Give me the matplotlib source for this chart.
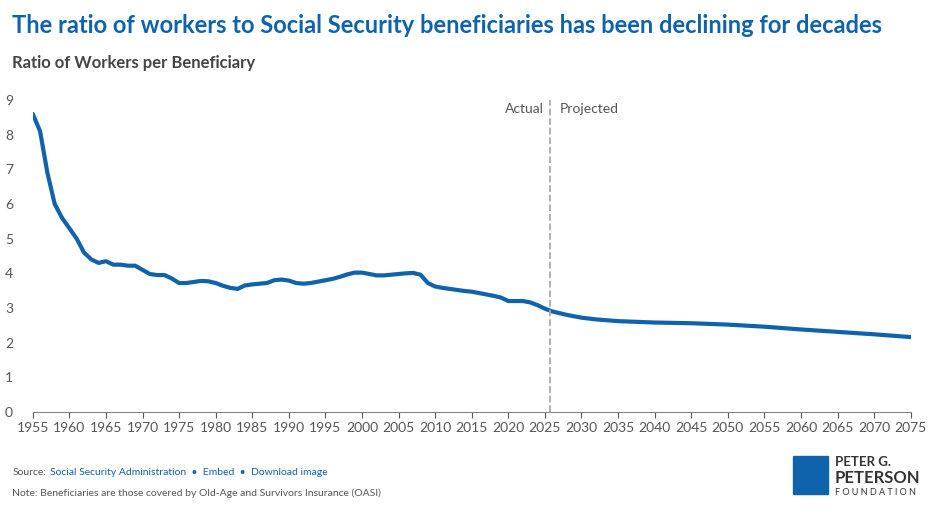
import matplotlib.pyplot as plt
from matplotlib.patches import Rectangle

years = list(range(1955, 2031)) + [2032, 2035, 2040, 2045, 2050, 2055, 2060, 2065, 2070, 2075]
ratio = [8.6, 8.1, 6.9, 6.0, 5.6, 5.3, 5.0, 4.6, 4.4, 4.3,
         4.35, 4.25, 4.25, 4.22, 4.22, 4.1, 3.98, 3.95, 3.95, 3.85,
         3.72, 3.72, 3.75, 3.78, 3.77, 3.72, 3.64, 3.58, 3.55, 3.65,
         3.68, 3.7, 3.72, 3.8, 3.82, 3.79, 3.72, 3.7, 3.72, 3.76,
         3.8, 3.84, 3.9, 3.97, 4.02, 4.02, 3.98, 3.94, 3.94, 3.96,
         3.98, 4.0, 4.01, 3.96, 3.72, 3.62, 3.58, 3.55, 3.52, 3.49,
         3.47, 3.43, 3.39, 3.35, 3.3, 3.2, 3.2, 3.2, 3.16, 3.08,
         2.98, 2.9, 2.85, 2.8, 2.76, 2.72,
         2.67, 2.62, 2.58, 2.56, 2.52, 2.46, 2.38, 2.31, 2.24, 2.16]
xticks = list(range(1955, 2080, 5))
split_year = 2025.7

plt.rcParams['font.family'] = ['Lato', 'DejaVu Sans']
blue = '#0f63ad'
grey = '#555555'

fig = plt.figure(figsize=(9.36, 5.13), dpi=100)
ax = fig.add_axes([0.035, 0.197, 0.938, 0.608])
ax.plot(years, ratio, color=blue, lw=3, solid_capstyle='round')
ax.axvline(split_year, color='#aaaaaa', ls='--', lw=1.3)
ax.text(split_year - 0.9, 8.75, 'Actual', ha='right', va='center', fontsize=10, color=grey)
ax.text(split_year + 1.3, 8.75, 'Projected', ha='left', va='center', fontsize=10, color=grey)
ax.set_xlim(1955, 2075)
ax.set_ylim(0, 9)
ax.set_xticks(xticks)
ax.set_yticks(range(10))
ax.tick_params(labelsize=10, colors=grey, length=4)
ax.tick_params(axis='y', length=0, pad=20)
for s in ['top', 'right', 'left']:
    ax.spines[s].set_visible(False)
ax.spines['bottom'].set_color('#888888')
for lbl in ax.get_yticklabels():
    lbl.set_horizontalalignment('left')

fig.text(0.013, 0.95, 'The ratio of workers to Social Security beneficiaries has been declining for decades',
         fontsize=17, fontweight='bold', color=blue, va='center')
fig.text(0.013, 0.878, 'Ratio of Workers per Beneficiary', fontsize=12, fontweight='bold', color='#444444', va='center')
fig.text(0.013, 0.078, 'Source:', fontsize=7.5, color=grey, va='center')
fig.text(0.053, 0.078, 'Social Security Administration  \u2022  Embed  \u2022  Download image', fontsize=7.5, color=blue, va='center')
fig.text(0.013, 0.039, 'Note: Beneficiaries are those covered by Old-Age and Survivors Insurance (OASI)',
         fontsize=7.5, color=grey, va='center')

fig.patches.append(Rectangle((0.847, 0.037), 0.038, 0.074, transform=fig.transFigure, color=blue))
fig.text(0.892, 0.1, 'PETER G.', fontsize=9.5, fontweight='bold', color='#333333', va='center')
fig.text(0.892, 0.068, 'PETERSON', fontsize=12, fontweight='bold', color='#333333', va='center')
fig.text(0.892, 0.04, 'F O U N D A T I O N', fontsize=6.5, color='#333333', va='center')

fig.savefig('out.png', dpi=100)
